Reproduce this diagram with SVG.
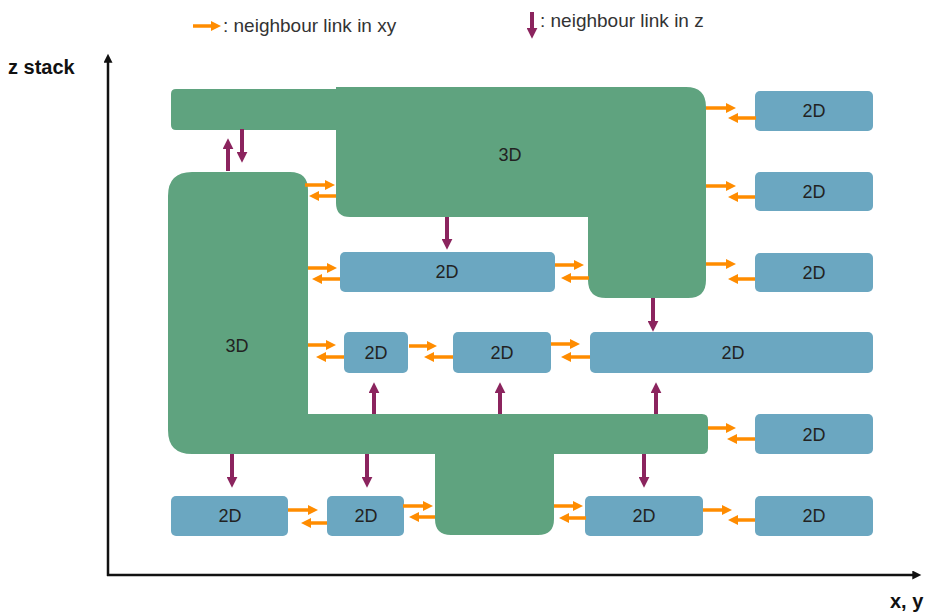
<svg xmlns="http://www.w3.org/2000/svg" width="928" height="614" viewBox="0 0 928 614">
<style>
.g{fill:#5fa37f}
.b{fill:#6ba7c1}
.t{font-family:"Liberation Sans",Arial,sans-serif;font-size:18px;fill:#222;text-anchor:middle}
.lg{font-family:"Liberation Sans",Arial,sans-serif;font-size:19px;fill:#333}
.ax{font-family:"Liberation Sans",Arial,sans-serif;font-size:20px;font-weight:bold;fill:#111}
.o{stroke:#ff8c00;stroke-width:3.5;fill:none;marker-end:url(#oa)}
.p{stroke:#8b245e;stroke-width:4;fill:none;marker-end:url(#pa)}
.k{stroke:#111;stroke-width:2.5;fill:none;marker-end:url(#ka)}
</style>
<defs>
<marker id="oa" viewBox="0 0 10 10" refX="3" refY="5" markerWidth="10" markerHeight="10" markerUnits="userSpaceOnUse" orient="auto"><path d="M0,0 L10,5 L0,10 Z" fill="#ff8c00"/></marker>
<marker id="pa" viewBox="0 0 10 10" refX="3" refY="5" markerWidth="11" markerHeight="11" markerUnits="userSpaceOnUse" orient="auto"><path d="M0,0 L10,5 L0,10 Z" fill="#8b245e"/></marker>
<marker id="ka" viewBox="0 0 10 10" refX="3" refY="5" markerWidth="10" markerHeight="9" markerUnits="userSpaceOnUse" orient="auto"><path d="M0,0 L10,5 L0,10 Z" fill="#111"/></marker>
</defs>
<rect width="928" height="614" fill="#fff"/>

<g id="legend">
<line class="o" x1="193" y1="26" x2="214" y2="26"/>
<text class="lg" x="223" y="32">: neighbour link in xy</text>
<line class="p" x1="532" y1="12" x2="532" y2="31"/>
<text class="lg" x="540" y="27">: neighbour link in z</text>
</g>

<g id="axes">
<line class="k" x1="108" y1="576" x2="108" y2="60"/>
<line class="k" x1="107" y1="575" x2="915" y2="575"/>
<text class="ax" x="8" y="74">z stack</text>
<text class="ax" x="890" y="608">x, y</text>
</g>

<g id="n3d-top">
<path class="g" d="M176,89 L336,89 L336,87 L686,87 Q706,87 706,107 L706,280 Q706,298 688,298 L606,298 Q588,298 588,280 L588,217 L350,217 Q336,217 336,203 L336,130 L176,130 Q171,130 171,125 L171,94 Q171,89 176,89 Z"/>
<text class="t" x="510" y="161">3D</text>
</g>

<g id="n3d-left">
<path class="g" d="M192,172 L290,172 Q308,172 308,190 L308,414 L702,414 Q708,414 708,420 L708,448 Q708,454 702,454 L554,454 L554,519 Q554,535 538,535 L451,535 Q435,535 435,519 L435,454 L192,454 Q168,454 168,430 L168,196 Q168,172 192,172 Z"/>
<text class="t" x="237" y="352">3D</text>
</g>

<g id="n2d-r1"><rect class="b" x="755" y="91" width="118" height="40" rx="5"/><text class="t" x="814" y="117">2D</text></g>
<g id="n2d-r2"><rect class="b" x="755" y="172" width="118" height="39" rx="5"/><text class="t" x="814" y="198">2D</text></g>
<g id="n2d-r3"><rect class="b" x="755" y="253" width="118" height="39" rx="5"/><text class="t" x="814" y="279">2D</text></g>
<g id="n2d-mid3"><rect class="b" x="340" y="252" width="215" height="40" rx="5"/><text class="t" x="447" y="278">2D</text></g>
<g id="n2d-r4a"><rect class="b" x="344" y="332" width="64" height="41" rx="5"/><text class="t" x="376" y="359">2D</text></g>
<g id="n2d-r4b"><rect class="b" x="453" y="332" width="98" height="41" rx="5"/><text class="t" x="502" y="359">2D</text></g>
<g id="n2d-r4c"><rect class="b" x="590" y="332" width="283" height="41" rx="5"/><text class="t" x="733" y="359">2D</text></g>
<g id="n2d-r5"><rect class="b" x="755" y="414" width="118" height="40" rx="5"/><text class="t" x="814" y="441">2D</text></g>
<g id="n2d-r6a"><rect class="b" x="171" y="496" width="117" height="40" rx="5"/><text class="t" x="230" y="522">2D</text></g>
<g id="n2d-r6b"><rect class="b" x="327" y="496" width="77" height="40" rx="5"/><text class="t" x="366" y="522">2D</text></g>
<g id="n2d-r6c"><rect class="b" x="585" y="496" width="118" height="40" rx="5"/><text class="t" x="644" y="522">2D</text></g>
<g id="n2d-r6d"><rect class="b" x="755" y="496" width="118" height="40" rx="5"/><text class="t" x="814" y="522">2D</text></g>

<g id="connectors">
<line class="o" x1="706" y1="108" x2="729" y2="108"/><line class="o" x1="756" y1="118" x2="735" y2="118"/>
<line class="o" x1="706" y1="186" x2="729" y2="186"/><line class="o" x1="755" y1="197" x2="735" y2="197"/>
<line class="o" x1="706" y1="264" x2="729" y2="264"/><line class="o" x1="755" y1="279" x2="735" y2="279"/>
<line class="o" x1="305" y1="185" x2="328" y2="185"/><line class="o" x1="336" y1="196" x2="316" y2="196"/>
<line class="o" x1="308" y1="268" x2="330" y2="268"/><line class="o" x1="340" y1="279" x2="319" y2="279"/>
<line class="o" x1="555" y1="265" x2="577" y2="265"/><line class="o" x1="589" y1="278" x2="568" y2="278"/>
<line class="o" x1="308" y1="345" x2="329" y2="345"/><line class="o" x1="344" y1="357" x2="323" y2="357"/>
<line class="o" x1="409" y1="346" x2="430" y2="346"/><line class="o" x1="453" y1="357" x2="431" y2="357"/>
<line class="o" x1="551" y1="344" x2="573" y2="344"/><line class="o" x1="590" y1="357" x2="568" y2="357"/>
<line class="o" x1="708" y1="428" x2="729" y2="428"/><line class="o" x1="755" y1="439" x2="734" y2="439"/>
<line class="o" x1="288" y1="510" x2="311" y2="510"/><line class="o" x1="327" y1="523" x2="308" y2="523"/>
<line class="o" x1="403" y1="506" x2="426" y2="506"/><line class="o" x1="435" y1="517" x2="416" y2="517"/>
<line class="o" x1="554" y1="506" x2="576" y2="506"/><line class="o" x1="586" y1="518" x2="566" y2="518"/>
<line class="o" x1="703" y1="510" x2="725" y2="510"/><line class="o" x1="755" y1="520" x2="735" y2="520"/>

<line class="p" x1="228" y1="171" x2="228" y2="146"/>
<line class="p" x1="242" y1="129" x2="242" y2="155"/>
<line class="p" x1="447" y1="217" x2="447" y2="242"/>
<line class="p" x1="653" y1="298" x2="653" y2="324"/>
<line class="p" x1="374" y1="414" x2="374" y2="390"/>
<line class="p" x1="500" y1="414" x2="500" y2="390"/>
<line class="p" x1="656" y1="414" x2="656" y2="390"/>
<line class="p" x1="232" y1="454" x2="232" y2="480"/>
<line class="p" x1="367" y1="454" x2="367" y2="480"/>
<line class="p" x1="644" y1="454" x2="644" y2="480"/>
</g>
</svg>
